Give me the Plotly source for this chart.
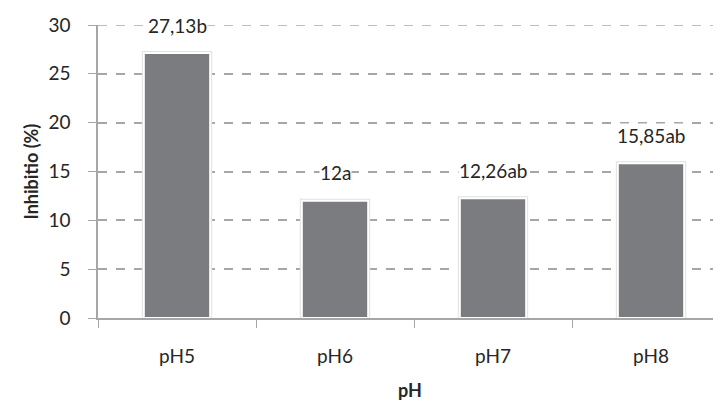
import plotly.graph_objects as go

categories = ["pH5", "pH6", "pH7", "pH8"]
values = [27.13, 12.0, 12.26, 15.85]
labels = ["27,13b", "12a", "12,26ab", "15,85ab"]
y_ticks = [0, 5, 10, 15, 20, 25, 30]

font_family = "Lato, Noto Sans, Liberation Sans, sans-serif"
txt = "#262626"
axis_gray = "#a6a6a6"

fig = go.Figure()
# soft shadow ring
fig.add_trace(go.Bar(
    x=categories, y=values, width=0.42,
    marker=dict(color="#e2e2e2", line=dict(color="#e0e0e0", width=4)),
    hoverinfo="skip",
))
fig.add_trace(go.Bar(
    x=categories, y=values, width=0.42,
    marker=dict(color="#7b7c80", line=dict(color="#ffffff", width=2)),
    hoverinfo="skip",
))

# top gridline (plotly omits gridline at the range edge)
fig.add_shape(type="line", xref="paper", yref="y", x0=0, x1=1, y0=y_ticks[-1], y1=y_ticks[-1],
              line=dict(color=axis_gray, width=1.5, dash="dash"), layer="below")

for c, v, t in zip(categories, values, labels):
    fig.add_annotation(x=c, y=v, text=t, showarrow=False, yshift=28,
                       xanchor="center", yanchor="middle",
                       bgcolor="white", font=dict(size=19, color=txt, family=font_family),
                       borderpad=0)

# axis titles
fig.add_annotation(xref="paper", yref="paper", x=0.5, y=0, yshift=-72, text="<b>pH</b>",
                   xanchor="center", yanchor="middle",
                   showarrow=False, font=dict(size=18, color=txt, family=font_family))
fig.add_annotation(xref="paper", yref="paper", x=0, y=0.5, xshift=-68, text="<b>Inhibitio (%)</b>",
                   xanchor="center", yanchor="middle",
                   textangle=-90, showarrow=False, font=dict(size=18, color=txt, family=font_family))

fig.update_layout(
    width=713, height=393,
    margin=dict(l=90, r=0, t=17, b=83, autoexpand=False),
    paper_bgcolor="white", plot_bgcolor="white",
    showlegend=False, barmode="overlay",
    font=dict(family=font_family, size=19, color=txt),
    xaxis=dict(
        range=[-0.5, 3.443], showgrid=False, showline=True, linecolor=axis_gray, linewidth=1.5,
        ticks="outside", ticklen=8, tickcolor=axis_gray, tickson="boundaries", automargin=False,
        tickfont=dict(size=19), ticklabelstandoff=20,
    ),
    yaxis=dict(
        range=[0, 30], tickvals=y_ticks, showgrid=True, gridcolor=axis_gray, griddash="dash", gridwidth=1.5,
        showline=True, linecolor=axis_gray, linewidth=1.5, ticks="outside", ticklen=8, tickcolor=axis_gray,
        zeroline=False, tickfont=dict(size=19), automargin=False, ticklabelstandoff=14,
    ),
)

fig.write_html("out.html")
